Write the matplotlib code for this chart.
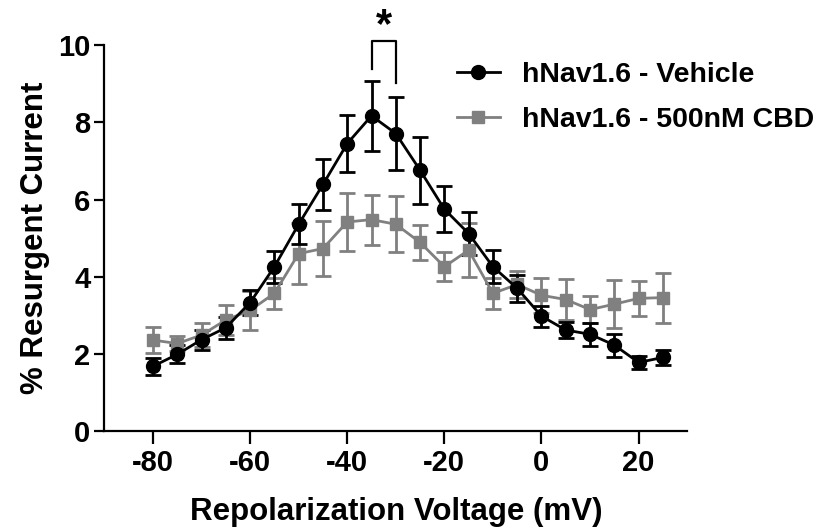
import matplotlib.pyplot as plt

plt.rcParams['font.family'] = ['Liberation Sans', 'DejaVu Sans']
plt.rcParams['font.weight'] = 'bold'
plt.rcParams['axes.unicode_minus'] = False

# repolarization steps (mV)
volts = [-80, -75, -70, -65, -60, -55, -50, -45, -40, -35, -30,
         -25, -20, -15, -10, -5, 0, 5, 10, 15, 20, 25]

# % resurgent current, mean and SEM
vehicle = [1.68, 1.99, 2.37, 2.68, 3.33, 4.26, 5.36, 6.39, 7.45, 8.17, 7.71,
           6.76, 5.75, 5.12, 4.26, 3.70, 2.98, 2.62, 2.51, 2.23, 1.78, 1.91]
vehicle_sem = [0.22, 0.23, 0.26, 0.28, 0.33, 0.42, 0.52, 0.67, 0.74, 0.91, 0.95,
               0.87, 0.60, 0.56, 0.43, 0.35, 0.27, 0.20, 0.30, 0.30, 0.18, 0.20]

cbd = [2.36, 2.27, 2.49, 2.88, 3.13, 3.57, 4.60, 4.73, 5.42, 5.48, 5.36,
       4.89, 4.26, 4.69, 3.57, 3.80, 3.52, 3.41, 3.15, 3.29, 3.44, 3.46]
cbd_sem = [0.33, 0.20, 0.30, 0.40, 0.50, 0.40, 0.80, 0.71, 0.75, 0.65, 0.72,
           0.45, 0.37, 0.70, 0.40, 0.35, 0.45, 0.54, 0.35, 0.62, 0.45, 0.65]

labels = ['hNav1.6 - Vehicle', 'hNav1.6 - 500nM CBD']

fig = plt.figure(figsize=(8.22, 5.31), dpi=100)
ax = fig.add_axes([0.127, 0.188, 0.709, 0.727])

gray = '#808080'
h2 = ax.errorbar(volts, cbd, yerr=cbd_sem, color=gray, marker='s', markersize=9,
                 linewidth=2, elinewidth=2, capsize=6, capthick=2)
h1 = ax.errorbar(volts, vehicle, yerr=vehicle_sem, color='black', marker='o', markersize=10,
                 linewidth=2, elinewidth=2, capsize=6, capthick=2)

# significance bracket between -35 and -30 mV
ax.plot([-35, -35, -30, -30], [9.37, 10.11, 10.11, 9.03], color='black',
        linewidth=1.6, clip_on=False)
ax.text(-32.5, 10.5, '*', ha='center', va='center', fontsize=30,
        fontweight='bold', clip_on=False)

ax.set_xlim(-90, 30)
ax.set_ylim(0, 10)
ax.set_xticks([-80, -60, -40, -20, 0, 20])
ax.set_yticks([0, 2, 4, 6, 8, 10])

for side in ['top', 'right']:
    ax.spines[side].set_visible(False)
for side in ['left', 'bottom']:
    ax.spines[side].set_linewidth(1.6)

ax.tick_params(axis='y', length=7, width=1.6, labelsize=21, pad=3)
ax.tick_params(axis='x', length=9, width=1.6, labelsize=21, pad=4)

ax.set_xlabel('Repolarization Voltage (mV)', fontsize=22.5, fontweight='bold', labelpad=14)
ax.set_ylabel('% Resurgent Current', fontsize=22.5, fontweight='bold', labelpad=6)

fig.legend([h1[0], h2[0]], labels, loc='upper left', bbox_to_anchor=(0.556, 0.883),
           bbox_transform=fig.transFigure, frameon=False, fontsize=20.5,
           handlelength=1.5, handletextpad=0.77, labelspacing=0.66,
           borderpad=0, borderaxespad=0)

fig.savefig('out.png', dpi=100)
